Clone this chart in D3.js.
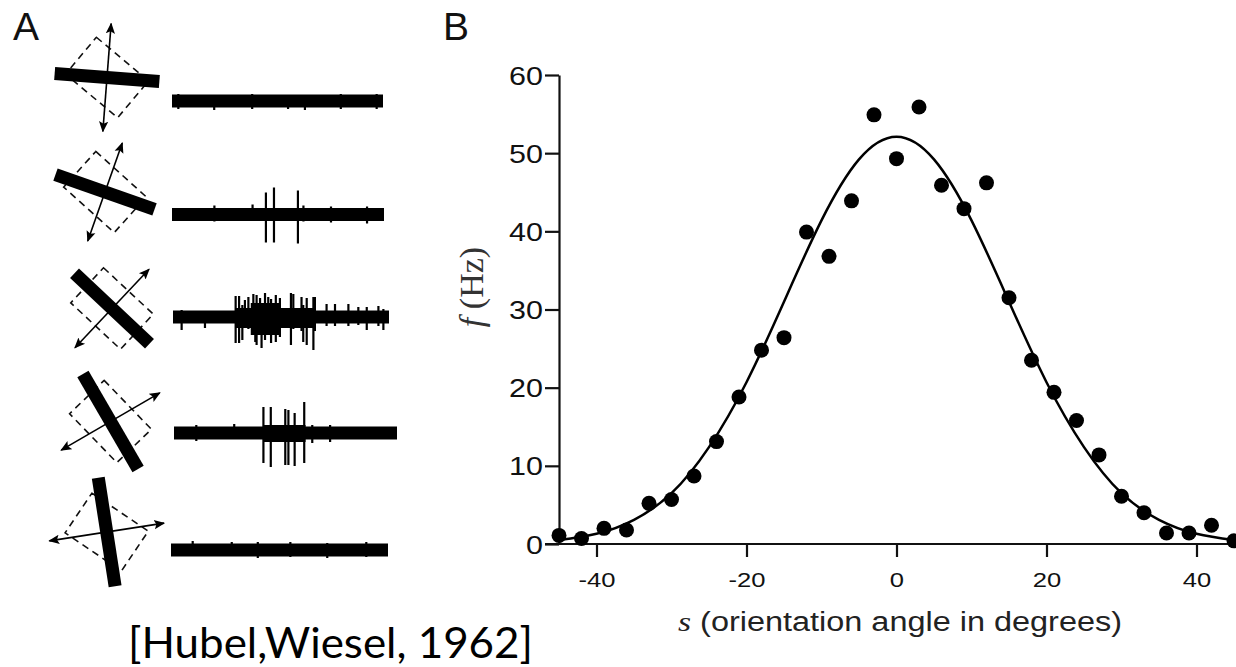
<!DOCTYPE html>
<html><head><meta charset="utf-8">
<script src="https://cdn.jsdelivr.net/npm/d3@7"></script>
<style>body{margin:0;background:#fff}svg{display:block}</style>
</head><body>
<svg id="chart" width="1236" height="667"></svg>
<script>
// ---------- Panel B data ----------
const angles = [-45,-42,-39,-36,-33,-30,-27,-24,-21,-18,-15,-12,-9,-6,-3,0,3,6,9,12,15,18,21,24,27,30,33,36,39,42,45];
const rates  = [1.1,0.7,2.0,1.8,5.2,5.7,8.7,13.1,18.8,24.8,26.4,39.9,36.8,43.9,54.9,49.3,55.9,45.9,42.9,46.2,31.5,23.5,19.4,15.8,11.4,6.1,4.0,1.4,1.4,2.4,0.4];
const fitAngles = [-45,-40,-35,-30,-25,-20,-15,-10,-5,0,5,10,15,20,25,30,35,40,45];
const fitRates  = [0.5,1.3,3.1,6.5,12.4,20.7,31.0,41.4,49.2,52.1,49.2,41.4,31.0,20.7,12.4,6.5,3.1,1.3,0.5];
const xTicks = [-40,-20,0,20,40];
const yTicks = [0,10,20,30,40,50,60];

// ---------- Panel A data ----------
const barAngles = [4.4, 19.4, 43.3, 59.9, 81.2];      // bar orientation (deg)
const rfAngles  = [40, 42, 43, 46, 34];               // dashed receptive-field orientation (deg)
// spikes per row: [time fraction, upward amplitude, downward amplitude]
const spikes = [
  [[0.03,7,8],[0.20,6,9],[0.38,7,8],[0.55,6,8],[0.63,5,9],[0.80,7,8],[0.97,7,8]],
  [[0.443,22,28],[0.481,27,28],[0.594,24,29],[0.20,9,7],[0.38,10,6],[0.62,9,7],[0.75,8,8],[0.92,8,9]],
  [[0.040,7,13],[0.148,6,11],[0.290,21,26],[0.306,21,26],[0.321,12,23],[0.333,17,10],[0.349,20,12],
   [0.372,23,14],[0.381,14,25],[0.387,22,28],[0.403,19,16],[0.410,14,31],[0.426,24,23],[0.441,20,15],
   [0.454,18,26],[0.476,22,25],[0.495,19,20],[0.546,24,28],[0.557,23,12],[0.595,20,14],[0.603,12,25],
   [0.619,19,28],[0.650,20,33],[0.657,20,14],[0.711,13,9],[0.750,13,9],[0.812,13,9],[0.858,10,8],
   [0.897,10,13],[0.951,11,9],[0.974,8,13]],
  [[0.401,26,30],[0.434,26,34],[0.499,24,32],[0.513,23,32],[0.541,20,33],[0.584,31,30],[0.27,9,6],[0.62,8,10],[0.70,8,9],[0.10,8,8]],
  [[0.10,9,6],[0.28,8,6],[0.40,8,8],[0.55,8,7],[0.72,7,8],[0.90,8,7]]
];
// dense bursts per row: [t0, t1, up, down]
const bursts = [[], [], [[0.36,0.50,14,18],[0.29,0.66,9,11]], [[0.40,0.59,8,9]], []];

const svg = d3.select("#chart");
const SANS = "'Liberation Sans',Arial,Helvetica,sans-serif";
const SERIF = "'Liberation Serif','Times New Roman',serif";
const STRETCH = 1.22;   // panel B lettering is horizontally widened in the source

// ================= Panel B =================
const x = d3.scaleLinear().domain([-45,45]).range([559,1234]);
const y = d3.scaleLinear().domain([0,60]).range([544,75]);

const gB = svg.append("g");
const yAxis = gB.append("g").attr("transform","translate(559,0)")
  .call(d3.axisLeft(y).tickValues(yTicks).tickSize(14).tickSizeOuter(0).tickFormat(d=>String(d)));
const xAxis = gB.append("g").attr("transform","translate(0,544)")
  .call(d3.axisBottom(x).tickValues(xTicks).tickSize(13).tickSizeOuter(0).tickFormat(d=>String(d)));
xAxis.select(".domain").attr("d", `M545,0H1236`);
[yAxis, xAxis].forEach(a => {
  a.selectAll("path,line").attr("stroke","#111").attr("stroke-width",2.2);
  a.selectAll("text").attr("fill","#111").style("font-family",SANS);
});
yAxis.selectAll("text").style("font-size","25px").attr("x",0).attr("dy","0.36em")
  .attr("transform",`translate(-16,0) scale(${STRETCH},1)`);
xAxis.selectAll("text").style("font-size","21px").attr("y",0).attr("dy","0.71em")
  .attr("transform",`translate(0,28) scale(${STRETCH},1)`);

const line = d3.line().x((d,i)=>x(fitAngles[i])).y(d=>y(d)).curve(d3.curveNatural);
gB.append("path").datum(fitRates).attr("d",line).attr("fill","none")
  .attr("stroke","#000").attr("stroke-width",2.5);

gB.selectAll("circle.pt").data(rates).join("circle").attr("class","pt")
  .attr("cx",(d,i)=>x(angles[i])).attr("cy",d=>y(d)).attr("r",7.5).attr("fill","#000");

// axis titles
const xt = gB.append("text").attr("x",678).attr("y",631)
  .attr("textLength",444).attr("lengthAdjust","spacingAndGlyphs")
  .style("font-family",SANS).style("font-size","27px").attr("fill","#222");
xt.append("tspan").text("s").style("font-family",SERIF).style("font-style","italic").style("font-size","28px");
xt.append("tspan").text(" (orientation angle in degrees)");

const yt = gB.append("text").attr("transform","translate(483,287) rotate(-90)").attr("text-anchor","middle")
  .style("font-family",SERIF).style("font-size","34px").attr("fill","#333");
yt.append("tspan").text("f").style("font-style","italic");
yt.append("tspan").text(" (Hz)");

// ================= Panel A =================
const icon = [[107,77.5],[105,192],[112,308.5],[110.5,421.5],[106.7,532]];
const barLen = [105,105,103,110,110];
const arrowLen = [108,104,108,114,116];
const trace = [[172,383,101],[172,384,214.5],[173,389,317],[174,397,433],[171,388,550]];

svg.append("defs").append("marker").attr("id","ah").attr("viewBox","0 0 10 10")
  .attr("refX",9).attr("refY",5).attr("markerWidth",11).attr("markerHeight",11)
  .attr("markerUnits","userSpaceOnUse").attr("orient","auto-start-reverse")
  .append("path").attr("d","M0,0.8L10,5L0,9.2L2,5Z").attr("fill","#000");

const gA = svg.append("g");
barAngles.forEach((ang,i) => {
  const [cx,cy] = icon[i];
  const g = gA.append("g").attr("transform",`translate(${cx},${cy})`);
  // dashed receptive field
  g.append("rect").attr("x",-34).attr("y",-24).attr("width",68).attr("height",48)
    .attr("transform",`rotate(${rfAngles[i]})`)
    .attr("fill","none").attr("stroke","#111").attr("stroke-width",1.6).attr("stroke-dasharray","7,5");
  // motion arrow perpendicular to bar
  const a = (ang+90)*Math.PI/180, L = arrowLen[i]/2;
  g.append("line").attr("x1",-L*Math.cos(a)).attr("y1",-L*Math.sin(a))
    .attr("x2",L*Math.cos(a)).attr("y2",L*Math.sin(a))
    .attr("stroke","#000").attr("stroke-width",1.6)
    .attr("marker-start","url(#ah)").attr("marker-end","url(#ah)");
  // bar
  g.append("rect").attr("x",-barLen[i]/2).attr("y",-6.5).attr("width",barLen[i]).attr("height",13)
    .attr("transform",`rotate(${ang})`).attr("fill","#000");

  // spike trace
  const [x0,x1,ty] = trace[i];
  const t = d3.scaleLinear().domain([0,1]).range([x0,x1]);
  const v = d3.scaleLinear().domain([-40,40]).range([ty+40,ty-40]);
  gA.append("rect").attr("x",x0).attr("y",v(6.5)).attr("width",x1-x0).attr("height",v(-6.5)-v(6.5)).attr("fill","#000");
  gA.selectAll(null).data(bursts[i]).join("rect")
    .attr("x",d=>t(d[0])).attr("width",d=>t(d[1])-t(d[0]))
    .attr("y",d=>v(d[2])).attr("height",d=>v(-d[3])-v(d[2])).attr("fill","#000");
  gA.selectAll(null).data(spikes[i]).join("line")
    .attr("x1",d=>t(d[0])).attr("x2",d=>t(d[0]))
    .attr("y1",d=>v(d[1])).attr("y2",d=>v(-d[2]))
    .attr("stroke","#000").attr("stroke-width",2.2);
});

// panel letters and citation
svg.append("text").attr("x",13).attr("y",40).text("A")
  .style("font-family",SANS).style("font-size","39px").attr("fill","#111");
svg.append("text").attr("x",443).attr("y",40).text("B")
  .style("font-family",SANS).style("font-size","39px").attr("fill","#111");
svg.append("text").attr("x",128).attr("y",658).text("[Hubel,Wiesel, 1962]")
  .attr("textLength",405).attr("lengthAdjust","spacingAndGlyphs")
  .style("font-family","Lato,'Open Sans',sans-serif").style("font-size","42px").attr("fill","#000");
</script>
</body></html>
